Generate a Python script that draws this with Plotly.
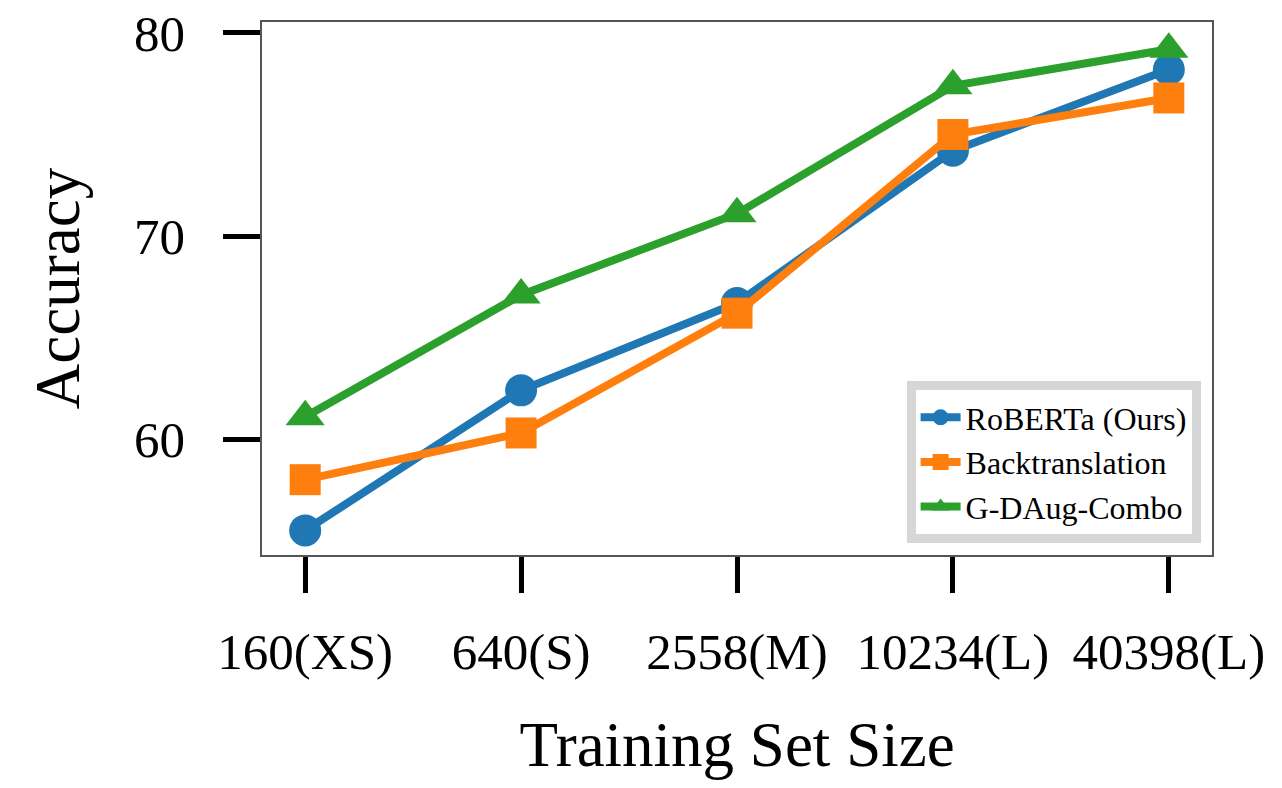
import plotly.graph_objects as go

# training set sizes (x categories)
sizes = ["160(XS)", "640(S)", "2558(M)", "10234(L)", "40398(L)"]

# accuracy per method
roberta = [55.5, 62.4, 66.7, 74.2, 78.2]
backtranslation = [58.0, 60.3, 66.2, 75.0, 76.8]
gdaug_combo = [61.1, 67.1, 71.1, 77.4, 79.2]

series = [
    ("RoBERTa (Ours)", roberta, "#1f77b4", "circle", 32),
    ("Backtranslation", backtranslation, "#ff7f0e", "square", 31),
    ("G-DAug-Combo", gdaug_combo, "#2ca02c", "triangle-up", 34),
]

FONT = "Liberation Serif, Times New Roman, serif"

fig = go.Figure()
for name, vals, color, symbol, msize in series:
    fig.add_trace(
        go.Scatter(
            x=sizes,
            y=vals,
            name=name,
            mode="lines+markers",
            line={"color": color, "width": 8},
            marker={"symbol": symbol, "size": msize, "color": color},
        )
    )

fig.update_layout(
    width=1282,
    height=788,
    paper_bgcolor="white",
    plot_bgcolor="white",
    margin={"l": 262, "r": 70, "t": 22, "b": 233, "autoexpand": False},
    font={"family": FONT, "color": "black"},
    showlegend=True,
    legend={
        "x": 0.988,
        "y": 0.0225,
        "xanchor": "right",
        "yanchor": "bottom",
        "font": {"size": 32, "family": FONT},
        "bgcolor": "white",
        "bordercolor": "#d6d6d6",
        "borderwidth": 9,
        "tracegroupgap": 0,
        "itemwidth": 40,
    },
    xaxis={
        "type": "category",
        "range": [-0.2, 4.2],
        "automargin": False,
        "showgrid": False,
        "zeroline": False,
        "showline": True,
        "mirror": True,
        "linecolor": "#555555",
        "linewidth": 1.5,
        "ticks": "outside",
        "ticklen": 36,
        "tickwidth": 4.5,
        "tickcolor": "black",
        "ticklabelstandoff": 15,
        "ticklabeloverflow": "allow",
        "tickfont": {"size": 51, "family": FONT},
        "title": {"text": "Training Set Size", "font": {"size": 63, "family": FONT}, "standoff": 43},
    },
    yaxis={
        "range": [54.29, 80.54],
        "tickvals": [60, 70, 80],
        "automargin": False,
        "showgrid": False,
        "zeroline": False,
        "showline": True,
        "mirror": True,
        "linecolor": "#555555",
        "linewidth": 1.5,
        "ticks": "outside",
        "ticklen": 37,
        "tickwidth": 4.5,
        "tickcolor": "black",
        "ticklabelstandoff": 28,
        "ticklabeloverflow": "allow",
        "tickfont": {"size": 51, "family": FONT},
        "title": {"text": "Accuracy", "font": {"size": 63, "family": FONT}, "standoff": 34},
    },
)

# drop the default 8px body margin so the figure sits at the page corner
fig.write_html(
    "out.html",
    config={"displayModeBar": False},
    post_script="document.body.style.margin = '0';",
)
